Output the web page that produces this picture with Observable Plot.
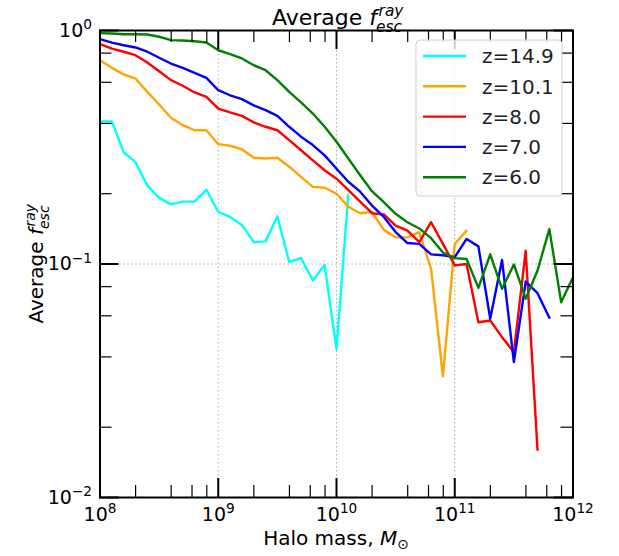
<!DOCTYPE html>
<html><head><meta charset="utf-8">
<script src="https://cdn.jsdelivr.net/npm/d3@7"></script>
<script src="https://cdn.jsdelivr.net/npm/@observablehq/plot@0.6"></script>
<style>body{margin:0;background:#fff}</style>
</head><body><div id="chart"></div>
<script>
// ---- data ----
const logMass = [8.0,8.1,8.2,8.3,8.4,8.5,8.6,8.7,8.8,8.9,9.0,9.1,9.2,9.3,9.4,9.5,9.6,9.7,9.8,9.9,10.0,
  10.1,10.2,10.3,10.4,10.5,10.6,10.7,10.8,10.9,11.0,11.1,11.2,11.3,11.4,11.5,11.6,11.7,11.8,11.9,12.0];
const labels = ["z=14.9","z=10.1","z=8.0","z=7.0","z=6.0"];
const colors = ["#00ffff","#ffa500","#ff0000","#0000ff","#008000"];
const z149 = [0.408,0.408,0.301,0.273,0.217,0.192,0.180,0.185,0.185,0.208,0.167,0.159,0.147,0.124,0.125,0.160,0.102,0.106,0.085,0.099,0.0433,0.198];
const z101 = [0.746,0.692,0.648,0.623,0.546,0.482,0.423,0.393,0.374,0.374,0.326,0.321,0.310,0.285,0.283,0.285,0.261,0.236,0.214,0.212,0.200,0.176,0.165,0.167,0.140,0.130,0.130,0.137,0.0954,0.033,0.122,0.139];
const z80 = [0.874,0.837,0.811,0.784,0.729,0.669,0.613,0.580,0.543,0.520,0.463,0.446,0.431,0.404,0.387,0.374,0.339,0.307,0.278,0.252,0.232,0.207,0.185,0.165,0.163,0.146,0.139,0.124,0.151,0.122,0.0986,0.100,0.0563,0.0573,0.0486,0.0419,0.114,0.016];
const z70 = [0.918,0.888,0.865,0.846,0.811,0.764,0.722,0.692,0.659,0.627,0.555,0.528,0.508,0.478,0.456,0.431,0.387,0.351,0.323,0.292,0.256,0.225,0.204,0.178,0.159,0.137,0.123,0.122,0.110,0.109,0.107,0.128,0.119,0.0583,0.104,0.0380,0.0841,0.0750,0.0588];
const z60 = [0.974,0.971,0.964,0.964,0.961,0.940,0.909,0.906,0.900,0.888,0.823,0.792,0.759,0.710,0.676,0.613,0.546,0.492,0.441,0.387,0.334,0.283,0.240,0.205,0.184,0.164,0.151,0.142,0.129,0.112,0.106,0.105,0.079,0.110,0.0783,0.0995,0.0710,0.0938,0.141,0.0686,0.0878];
const seriesValues = [z149, z101, z80, z70, z60];

const xMajor = [1e8,1e9,1e10,1e11,1e12];
const xTickLabels = ["10⁸","10⁹","10¹⁰","10¹¹","10¹²"];
const xMinor = [2e8,4e8,6e8,8e8,2e9,4e9,6e9,8e9,2e10,4e10,6e10,8e10,2e11,4e11,6e11,8e11];
const yMajor = [1e-2,1e-1,1];
const yTickLabels = ["10⁻²","10⁻¹","10⁰"];
const yMinor = [0.02,0.04,0.06,0.08,0.2,0.4,0.6,0.8];
const xGrid = [1e9,1e10,1e11];
const yGrid = [1e-1];

// ---- layout ----
const W = 619, H = 556, mL = 99.5, mR = 46.5, mT = 30, mB = 59;
const iW = W - mL - mR, iH = H - mT - mB;
const FONT = "DejaVu Sans";

const rows = seriesValues.map((vals, s) => vals.map((v, i) => ({mass: Math.pow(10, logMass[i]), f: v, z: labels[s]})));
const lineMarks = rows.map((r, s) => Plot.line(r, {x: "mass", y: "f", stroke: colors[s], strokeWidth: 2.4}));

const chart = Plot.plot({
  width: W, height: H,
  marginLeft: mL, marginRight: mR, marginTop: mT, marginBottom: mB,
  style: {fontFamily: FONT, fontSize: "19px", background: "white", overflow: "visible", color: "black"},
  x: {type: "log", domain: [1e8, 1e12]},
  y: {type: "log", domain: [1e-2, 1]},
  marks: [
    Plot.ruleX(xGrid, {x: d => d, stroke: "#aaa", strokeWidth: 1, strokeDasharray: "1.5,2.5"}),
    Plot.ruleY(yGrid, {y: d => d, stroke: "#aaa", strokeWidth: 1, strokeDasharray: "1.5,2.5"}),
    ...lineMarks,
    Plot.tickX(xMinor, {x: d => d, insetTop: iH - 12, stroke: "black", strokeWidth: 1.2}),
    Plot.tickX(xMinor, {x: d => d, insetBottom: iH - 12, stroke: "black", strokeWidth: 1.2}),
    Plot.tickX(xMajor, {x: d => d, insetTop: iH - 19, stroke: "black", strokeWidth: 2}),
    Plot.tickX(xMajor, {x: d => d, insetBottom: iH - 19, stroke: "black", strokeWidth: 2}),
    Plot.tickY(yMinor, {y: d => d, insetRight: iW - 12, stroke: "black", strokeWidth: 1.2}),
    Plot.tickY(yMinor, {y: d => d, insetLeft: iW - 12, stroke: "black", strokeWidth: 1.2}),
    Plot.tickY(yMajor, {y: d => d, insetRight: iW - 19, stroke: "black", strokeWidth: 2}),
    Plot.tickY(yMajor, {y: d => d, insetLeft: iW - 19, stroke: "black", strokeWidth: 2}),
    Plot.frame({stroke: "black", strokeWidth: 2}),
    Plot.axisX(xMajor, {tickSize: 0, tickPadding: 10, fontSize: 19, label: null,
      tickFormat: d => xTickLabels[xMajor.indexOf(d)]}),
    Plot.axisY(yMajor, {tickSize: 0, tickPadding: 8, fontSize: 19, label: null,
      tickFormat: d => yTickLabels[yMajor.indexOf(d)]})
  ]
});
document.getElementById("chart").appendChild(chart);

const svg = d3.select(chart);

// render tick-label exponents as raised, smaller text (like mathtext)
const supMap = {"⁰":"0","¹":"1","²":"2","³":"3","⁴":"4","⁵":"5","⁶":"6","⁷":"7","⁸":"8","⁹":"9","⁻":"−"};
svg.selectAll('g[aria-label="x-axis tick label"] text, g[aria-label="y-axis tick label"] text').each(function () {
  const s = this.textContent;
  const base = s.slice(0, 2);
  const exp = [...s.slice(2)].map(c => supMap[c] ?? c).join("");
  const t = d3.select(this);
  t.text(null);
  t.append("tspan").text(base);
  t.append("tspan").attr("font-size", "0.72em").attr("dy", "-0.55em").text(exp);
});

// "Average f_esc^ray" centred at (0,0) baseline
function fescLabel(g, size) {
  const main = g.append("text").attr("font-family", FONT).attr("font-size", size).attr("fill", "black")
    .attr("text-anchor", "start");
  main.append("tspan").text("Average ");
  main.append("tspan").attr("font-style", "italic").text("f");
  const wMain = main.node().getComputedTextLength();
  const ss = size * 0.7;
  const sup = g.append("text").attr("font-family", FONT).attr("font-size", ss).attr("font-style", "italic")
    .attr("text-anchor", "start").attr("y", -size * 0.42).text("ray");
  const sub = g.append("text").attr("font-family", FONT).attr("font-size", ss).attr("font-style", "italic")
    .attr("text-anchor", "start").attr("y", size * 0.32).text("esc");
  const wScript = Math.max(sup.node().getComputedTextLength(), sub.node().getComputedTextLength());
  const total = wMain + 1 + wScript;
  const x0 = -total / 2;
  main.attr("x", x0);
  sup.attr("x", x0 + wMain + 1.5);
  sub.attr("x", x0 + wMain - 1);
}

// title
fescLabel(svg.append("g").attr("transform", `translate(${mL + iW / 2 + 2},25)`), 22);
// y label
fescLabel(svg.append("g").attr("transform", `translate(43,${mT + iH / 2}) rotate(-90)`), 20);
// x label
const xl = svg.append("text").attr("x", mL + iW / 2).attr("y", 545).attr("text-anchor", "middle")
  .attr("font-family", FONT).attr("font-size", 20).attr("fill", "black");
xl.append("tspan").text("Halo mass, ");
xl.append("tspan").attr("font-style", "italic").text("M");
xl.append("tspan").attr("font-size", 14).attr("dy", 4).text("⊙");

// legend
const lg = svg.append("g");
lg.append("rect").attr("x", 416).attr("y", 40).attr("width", 146).attr("height", 156).attr("rx", 4)
  .attr("fill", "white").attr("fill-opacity", 0.8).attr("stroke", "#d0d0d0").attr("stroke-width", 1);
labels.forEach((lab, i) => {
  const y = 56 + i * 30.3;
  lg.append("line").attr("x1", 423).attr("x2", 466).attr("y1", y).attr("y2", y)
    .attr("stroke", colors[i]).attr("stroke-width", 2.4);
  lg.append("text").attr("x", 482).attr("y", y).attr("dy", "0.36em").attr("text-anchor", "start")
    .attr("font-family", FONT).attr("font-size", 20).attr("fill", "#222").text(lab);
});
</script>
</body></html>
